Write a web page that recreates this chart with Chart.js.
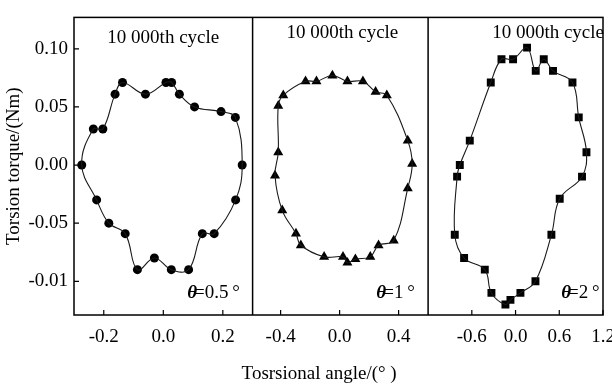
<!DOCTYPE html>
<html>
<head>
<meta charset="utf-8">
<title>Torsion torque vs torsional angle</title>
<script src="https://cdn.jsdelivr.net/npm/chart.js@4.4.0/dist/chart.umd.min.js"></script>
<style>
  body { margin: 0; background: #fff; }
  #wrap { position: relative; width: 612px; height: 387px; }
</style>
</head>
<body>
<div id="wrap"><canvas id="myChart"></canvas></div>
<script>
// hysteresis loops at the 10 000th cycle, points listed clockwise round each loop
const angle05 = [-0.274, -0.235, -0.203, -0.162, -0.137, -0.060, 0.009, 0.028, 0.054, 0.105, 0.194, 0.242,
  0.265, 0.243, 0.171, 0.131, 0.085, 0.027, -0.030, -0.087, -0.128, -0.183, -0.224];
const torque05 = [0.000, 0.031, 0.031, 0.061, 0.071, 0.061, 0.071, 0.071, 0.061, 0.050, 0.046, 0.041,
  0.000, -0.030, -0.059, -0.059, -0.090, -0.090, -0.080, -0.090, -0.059, -0.050, -0.030];

const angle1 = [-0.438, -0.416, -0.416, -0.382, -0.231, -0.157, -0.049, 0.053, 0.158, 0.244, 0.320, 0.462,
  0.492, 0.462, 0.367, 0.264, 0.208, 0.107, 0.053, 0.023, -0.105, -0.263, -0.296, -0.389];
const torque1 = [-0.009, 0.011, 0.051, 0.060, 0.072, 0.072, 0.077, 0.072, 0.072, 0.063, 0.060, 0.021,
  0.001, -0.020, -0.065, -0.069, -0.079, -0.081, -0.084, -0.079, -0.079, -0.069, -0.059, -0.039];

const angle2 = [-0.834, -0.802, -0.765, -0.628, -0.340, -0.193, -0.034, 0.158, 0.277, 0.387, 0.514, 0.781,
  0.867, 0.973, 0.912, 0.606, 0.492, 0.273, 0.067, -0.070, -0.139, -0.331, -0.422, -0.706];
const torque2 = [-0.060, -0.010, 0.000, 0.021, 0.071, 0.091, 0.091, 0.101, 0.081, 0.091, 0.081, 0.071,
  0.041, 0.011, -0.010, -0.029, -0.060, -0.100, -0.110, -0.116, -0.120, -0.110, -0.090, -0.080];

const xTicks05 = [-0.2, 0, 0.2];
const xTicks1 = [-0.4, 0, 0.4];
const xTicks2 = [-0.6, 0, 0.6, 1.2];
const yTicks = [-0.1, -0.05, 0, 0.05, 0.1];
const yTickLabels = ["-0.01", "-0.05", "0.00", "0.05", "0.10"];

const panelTitle = "10 000th cycle";
const thetaLabels = ["=0.5\u2009°", "=1\u2009°", "=2\u2009°"];

const FONT = "'Liberation Serif', 'Times New Roman', serif";
Chart.defaults.font.family = FONT;
Chart.defaults.font.size = 19;
Chart.defaults.color = "#000";

const toPoints = (xs, ys) => xs.map((x, i) => ({ x, y: ys[i] }));

// closed loop: pad both ends with the neighbouring points so the spline
// has proper tangents where it closes, the padding segments are hidden
function loopCurve(xs, ys, axis) {
  const n = xs.length;
  const order = [n - 1, ...xs.map((_, i) => i), 0, 1];
  return {
    data: order.map(i => ({ x: xs[i], y: ys[i] })),
    xAxisID: axis,
    showLine: true,
    tension: 0.4,
    borderColor: "#1a1a1a",
    borderWidth: 1.1,
    pointRadius: 0,
    segment: {
      borderColor: ctx => (ctx.p0DataIndex === 0 || ctx.p0DataIndex === n + 1 ? "rgba(0,0,0,0)" : undefined)
    }
  };
}

function markers(xs, ys, axis, style, r) {
  return {
    data: toPoints(xs, ys),
    xAxisID: axis,
    showLine: false,
    pointStyle: style,
    pointRadius: r,
    pointHoverRadius: r,
    backgroundColor: "#000",
    borderColor: "#000",
    borderWidth: 0
  };
}

// three x axes side by side along the bottom
function angleAxis(ticks, min, max, weight) {
  return {
    type: "linear",
    position: "bottom",
    stack: "angle",
    stackWeight: weight,
    min: min,
    max: max,
    grid: { display: false, drawTicks: false },
    border: { display: false },
    afterBuildTicks: s => { s.ticks = ticks.map(value => ({ value })); },
    ticks: { padding: 11, autoSkip: false, maxRotation: 0, callback: v => v.toFixed(1) },
    afterFit: s => { s.height = 72; s.paddingLeft = 0; s.paddingRight = 0; }
  };
}

// box round each panel, inward ticks and the text inside the panels
const framePlugin = {
  id: "frame",
  afterDatasetsDraw(chart) {
    const { ctx, chartArea: a, scales } = chart;
    const { x1, x2, x3, y } = scales;
    ctx.save();
    ctx.strokeStyle = "#000";
    ctx.lineWidth = 1.5;
    ctx.strokeRect(a.left, a.top, a.right - a.left, a.bottom - a.top);
    ctx.beginPath();
    [x2, x3].forEach(s => { ctx.moveTo(s.left, a.top); ctx.lineTo(s.left, a.bottom); });
    ctx.stroke();

    ctx.lineWidth = 1.2;
    ctx.beginPath();
    [x1, x2, x3].forEach(s => s.ticks.forEach(t => {
      const px = s.getPixelForValue(t.value);
      ctx.moveTo(px, a.bottom);
      ctx.lineTo(px, a.bottom - 5);
    }));
    y.ticks.forEach(t => {
      const py = y.getPixelForValue(t.value);
      ctx.moveTo(a.left, py);
      ctx.lineTo(a.left + 5, py);
    });
    ctx.stroke();

    ctx.fillStyle = "#000";
    ctx.textBaseline = "alphabetic";
    ctx.font = "19px " + FONT;
    ctx.textAlign = "center";
    ctx.fillText(panelTitle, (x1.left + x1.right) / 2, a.top + 26);
    ctx.fillText(panelTitle, (x2.left + x2.right) / 2 + 2, a.top + 21);
    ctx.textAlign = "right";
    ctx.fillText(panelTitle, x3.right + 1, a.top + 21);

    const rights = [x1.right - 12.7, x2.right - 13.3, x3.right - 3.3];
    thetaLabels.forEach((txt, i) => {
      ctx.font = "19px " + FONT;
      const w = ctx.measureText(txt).width;
      ctx.textAlign = "left";
      ctx.fillText(txt, rights[i] - w, a.bottom - 17);
      ctx.font = "italic bold 19px " + FONT;
      ctx.textAlign = "right";
      ctx.fillText("θ", rights[i] - w + 3, a.bottom - 17);
    });

    ctx.font = "19px " + FONT;
    ctx.textAlign = "left";
    ctx.fillText("Tosrsional angle/(° )", x2.left - 11, chart.height - 8);
    ctx.restore();
  }
};

let myChart = new Chart(document.getElementById("myChart"), {
  type: "scatter",
  data: {
    datasets: [
      loopCurve(angle05, torque05, "x1"),
      loopCurve(angle1, torque1, "x2"),
      loopCurve(angle2, torque2, "x3"),
      markers(angle05, torque05, "x1", "circle", 4.5),
      markers(angle1, torque1, "x2", "triangle", 5.8),
      markers(angle2, torque2, "x3", "rect", 5.6)
    ]
  },
  options: {
    responsive: true,
    maintainAspectRatio: false,
    animation: false,
    events: [],
    layout: { padding: { top: 7, right: 9, bottom: 0, left: 0 } },
    plugins: { legend: { display: false }, tooltip: { enabled: false } },
    scales: {
      x1: angleAxis(xTicks05, -0.30, 0.30, 178.7),
      x2: angleAxis(xTicks1, -0.59, 0.60, 175.6),
      x3: angleAxis(xTicks2, -1.2, 1.2, 175.0),
      y: {
        type: "linear",
        position: "left",
        min: -0.129,
        max: 0.127,
        grid: { display: false, drawTicks: false },
        border: { display: false },
        afterBuildTicks: s => { s.ticks = yTicks.map(value => ({ value })); },
        ticks: { padding: 6, autoSkip: false, callback: (v, i) => yTickLabels[i] },
        title: { display: true, text: "Torsion torque/(Nm)", padding: { top: 3, bottom: 0 } },
        afterFit: s => { s.width = 74; }
      }
    }
  },
  plugins: [framePlugin]
});
</script>
</body>
</html>
